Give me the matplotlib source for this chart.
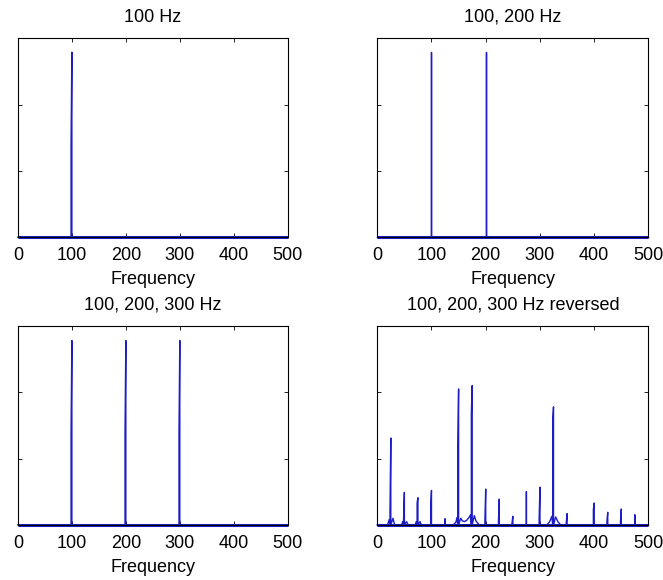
import matplotlib.pyplot as plt
import numpy as np

plt.rcParams['font.family'] = ['Liberation Sans', 'DejaVu Sans']

# peak values (frequency, top, neighbour-bin value)
p1_freq = [100]
p1_top = [2.79]
p1_next = [1.39]

p2_freq = [100, 200]
p2_top = [2.79, 2.79]
p2_next = [0.0, 0.0]

p3_freq = [100, 200, 300]
p3_top = [2.78, 2.78, 2.78]
p3_next = [1.38, 1.38, 1.38]

p4_freq = [25, 50, 75, 100, 125, 150, 175, 200, 225, 250, 275, 300, 325, 350, 400, 425, 450, 475]
p4_top = [1.31, 0.49, 0.41, 0.52, 0.09, 2.05, 2.10, 0.54, 0.39, 0.13, 0.50, 0.57, 1.78, 0.17, 0.33, 0.19, 0.24, 0.15]
p4_next = [0.20, 0.06, 0.33, 0.28, 0.0, 1.18, 1.67, 0.06, 0.05, 0.03, 0.0, 0.08, 1.57, 0.03, 0.23, 0.06, 0.05, 0.0]

# leakage skirts around the reversed-signal peaks
skirt_freq = [19, 22, 29, 32, 45, 47, 54, 57, 70, 72, 79, 81, 140, 145, 147, 154, 157, 161, 165, 169, 172, 179, 182, 188,
              313, 318, 322, 329, 333, 338]
skirt_mag = [0.0, 0.08, 0.10, 0.0, 0.0, 0.05, 0.05, 0.0, 0.0, 0.05, 0.05, 0.0, 0.0, 0.04, 0.11, 0.10, 0.06, 0.05, 0.07,
             0.11, 0.15, 0.14, 0.06, 0.0, 0.0, 0.05, 0.13, 0.12, 0.05, 0.0]

titles = ['100 Hz', '100, 200 Hz', '100, 200, 300 Hz', '100, 200, 300 Hz reversed']
line_col = '#1c1cc8'


def build(freq, top, nxt, sk_f=(), sk_m=()):
    xs = [0, 500]
    ys = [0, 0]
    for f, t, n in zip(freq, top, nxt):
        if n > 0:
            xs += [f - 1.5, f - 1.5, f, f]
            ys += [0, n, t, 0]
        else:
            xs += [f, f, f]
            ys += [0, t, 0]
    xs += list(sk_f)
    ys += list(sk_m)
    order = np.argsort(xs, kind='stable')
    return np.array(xs)[order], np.array(ys)[order]


data = [build(p1_freq, p1_top, p1_next),
        build(p2_freq, p2_top, p2_next),
        build(p3_freq, p3_top, p3_next),
        build(p4_freq, p4_top, p4_next, skirt_freq, skirt_mag)]

fig = plt.figure(figsize=(6.63, 5.80), dpi=100)
positions = [[0.027, 0.591, 0.407, 0.343],
             [0.569, 0.591, 0.409, 0.343],
             [0.027, 0.095, 0.407, 0.343],
             [0.569, 0.095, 0.409, 0.343]]

for i in range(4):
    ax = fig.add_axes(positions[i])
    x, y = data[i]
    ax.plot(x, y, color=line_col, lw=1.0, clip_on=False)
    ax.plot([0, 500], [0, 0], color=line_col, lw=2.2, clip_on=False, solid_capstyle='butt')
    ax.set_xlim(0, 500)
    ax.set_ylim(0, 3)
    ax.set_xticks(np.arange(0, 501, 100))
    ax.set_yticks([1, 2])
    ax.set_yticklabels([])
    ax.tick_params(direction='in', length=3, width=0.6, top=True, right=True, labelsize=13, pad=7)
    ax.set_title(titles[i], fontsize=13, pad=12)
    ax.set_xlabel('Frequency', fontsize=13, labelpad=5)
    for s in ax.spines.values():
        s.set_linewidth(0.8)

fig.savefig('out.png', dpi=100)
